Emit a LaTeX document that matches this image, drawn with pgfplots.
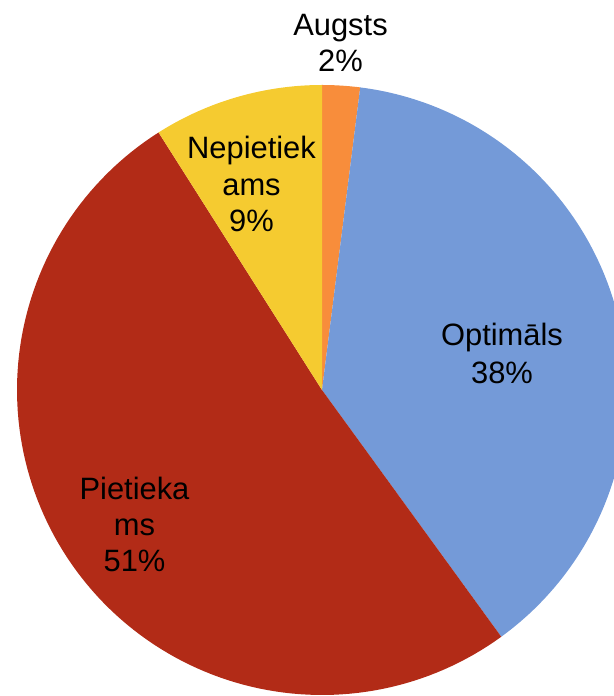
\documentclass[border=0pt]{standalone}
\usepackage{pgfplots}
\pgfplotsset{compat=1.18}
\usepackage{pgfplotstable}
\usepackage{fontspec}
\setmainfont{Liberation Sans}
\definecolor{cAug}{RGB}{248,141,59}
\definecolor{cOpt}{RGB}{116,154,216}
\definecolor{cPie}{RGB}{178,43,23}
\definecolor{cNep}{RGB}{245,203,48}
% share in percent, clockwise from 12 o'clock
\pgfplotstableread{
name value colour
Augsts 2 cAug
Optimals 38 cOpt
Pietiekams 51 cPie
Nepietiekams 9 cNep
}\piedata
\begin{document}
\begin{tikzpicture}
\begin{axis}[hide axis, scale only axis, width=614bp, height=696bp,
  xmin=0, xmax=614, ymin=-696, ymax=0, clip=true]
\def\cx{322}\def\cy{-390}\def\rr{305}
\def\acc{0}
\pgfplotstablegetrowsof{\piedata}
\pgfmathtruncatemacro\nrows{\pgfplotsretval-1}
\pgfplotsforeachungrouped \i in {0,...,\nrows}{%
  \pgfplotstablegetelem{\i}{value}\of\piedata
  \let\val\pgfplotsretval
  \pgfplotstablegetelem{\i}{colour}\of\piedata
  \let\col\pgfplotsretval
  \pgfmathsetmacro\aa{\acc*3.6}%
  \pgfmathsetmacro\bb{(\acc+\val)*3.6}%
  \edef\doplot{\noexpand\addplot[fill=\col, draw=none, domain=\aa:\bb, samples=120]
    ({\cx+\rr*sin(x)},{\cy+\rr*cos(x)}) -- (axis cs:\cx,\cy) -- cycle;}%
  \doplot
  \pgfmathsetmacro\acc{\acc+\val}%
  \global\let\acc\acc
}
\begin{scope}[every node/.style={anchor=base, inner sep=0pt, font=\fontsize{31}{36}\selectfont}]
\node at (axis cs:340.5,-36) {Augsts};
\node at (axis cs:340.5,-72) {2\%};
\node at (axis cs:251.5,-159) {Nepietiek};
\node at (axis cs:251.5,-196) {ams};
\node at (axis cs:251.5,-232) {9\%};
\node at (axis cs:502,-346) {Optimāls};
\node at (axis cs:502,-384) {38\%};
\node at (axis cs:134.5,-500) {Pietieka};
\node at (axis cs:134.5,-536) {ms};
\node at (axis cs:134.5,-572) {51\%};
\end{scope}
\end{axis}
\path (current axis.south west) rectangle (current axis.north east);
\end{tikzpicture}
\end{document}
